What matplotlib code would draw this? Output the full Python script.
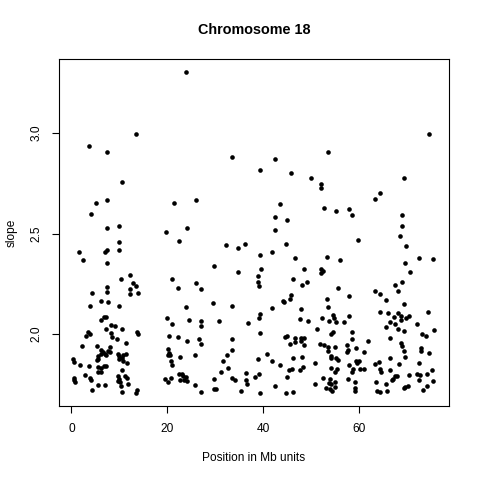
import numpy as np
import matplotlib
matplotlib.use("Agg")
import matplotlib.pyplot as plt

plt.rcParams['font.family'] = ['Liberation Sans', 'DejaVu Sans']

title = "Chromosome 18"
xlabel = "Position in Mb units"
ylabel = "slope"
xticks = [0, 20, 40, 60]
yticks = [2.0, 2.5, 3.0]

# short arm (0 - 14 Mb)
pos_p = [13.5, 3.75, 7.43, 10.5, 5.06, 7.36, 4.17, 7.36, 9.85,
         9.85, 1.6, 2.36, 7.08, 7.36, 10.0, 7.5, 10.35, 12.1, 12.85, 13.54, 12.1, 12.3, 13.96,
         7.5, 7.36, 4.24, 6.1, 7.7, 10.0, 3.9, 6.8, 7.2, 6.1, 8.26, 9.1, 7.3, 10.56, 3.5, 3.9,
         3.06, 8.26, 8.47, 9.5, 13.7, 13.9, 2.15, 5.35, 11.4, 6.1, 8.06, 6.1, 6.6, 5.6, 7.56,
         7.98, 7.0, 7.3, 9.6, 9.85, 10.7, 10.56, 11.46, 5.35, 5.6, 0.35, 0.48, 1.73, 3.7, 6.7,
         7.1, 10.0, 10.7, 11.6, 5.5, 6.2, 10.56, 5.6, 6.1, 2.9, 3.8, 4.1, 0.5, 0.6, 0.8, 9.8,
         9.9, 11.1, 11.67, 5.6, 7.08, 9.6, 10.2, 11.7, 10.4, 10.56, 4.3, 13.7, 13.5]
slope_p = [2.995, 2.937, 2.907, 2.755, 2.652, 2.667, 2.599, 2.529, 2.537,
           2.456, 2.409, 2.37, 2.409, 2.42, 2.418, 2.352, 2.275, 2.292, 2.255, 2.239, 2.222, 2.199, 2.202,
           2.235, 2.209, 2.204, 2.166, 2.158, 2.138, 2.141, 2.085, 2.085, 2.07, 2.046, 2.041, 2.023, 2.023, 2.008, 2.0,
           1.99, 2.006, 1.984, 1.977, 2.012, 2.0, 1.939, 1.94, 1.955, 1.92, 1.934, 1.899, 1.909, 1.892, 1.915,
           1.912, 1.899, 1.896, 1.899, 1.889, 1.894, 1.882, 1.902, 1.871, 1.876, 1.874, 1.859, 1.846, 1.841, 1.841,
           1.842, 1.874, 1.867, 1.857, 1.834, 1.832, 1.821, 1.812, 1.811, 1.795, 1.783, 1.773, 1.78, 1.771, 1.76, 1.79,
           1.776, 1.791, 1.78, 1.745, 1.745, 1.768, 1.763, 1.753, 1.74, 1.711, 1.721, 1.721, 1.705]

# long arm, 19 - 46 Mb
pos_q1 = [21.3, 19.7, 23.9, 33.5, 42.4, 39.4, 45.7, 26.0, 43.4, 42.4, 44.9, 24.0, 42.4,
          22.4, 29.8, 21.0, 22.3, 25.9, 27.0, 29.4, 23.9, 19.9, 21.0, 24.4, 27.1, 27.0, 20.35,
          22.2, 24.0, 26.5, 27.1, 20.1, 20.35, 20.5, 20.1, 22.7, 25.8, 20.8, 20.9, 19.5, 20.1,
          20.8, 22.4, 23.06, 23.3, 22.6, 23.4, 23.96, 24.1, 25.8, 27.0, 29.8, 29.8,
          32.3, 34.65, 36.1, 44.7, 39.3, 41.7, 34.65, 39.5, 38.96, 38.96, 39.1, 33.5, 44.0, 44.2,
          45.5, 41.7, 39.2, 39.1, 30.8, 36.7, 39.2, 33.4, 44.6, 45.0, 45.6, 33.5, 32.4, 31.5,
          40.8, 38.9, 41.7, 32.6, 31.1, 43.5, 45.4, 36.4, 39.1, 33.4, 34.0, 36.4, 36.5, 38.3,
          44.85, 30.2, 35.35, 39.4, 42.4, 44.8]
slope_q1 = [2.652, 2.507, 3.305, 2.882, 2.871, 2.816, 2.80, 2.665, 2.647, 2.58, 2.567, 2.529, 2.517,
            2.461, 2.34, 2.272, 2.227, 2.255, 2.224, 2.153, 2.134, 2.08, 2.051, 2.068, 2.063, 2.041, 1.989,
            1.984, 1.964, 1.974, 1.949, 1.925, 1.904, 1.897, 1.896, 1.886, 1.896, 1.866, 1.844, 1.778, 1.761,
            1.781, 1.801, 1.801, 1.791, 1.771, 1.77, 1.785, 1.768, 1.746, 1.713, 1.778, 1.725,
            2.441, 2.429, 2.446, 2.446, 2.395, 2.406, 2.308, 2.322, 2.287, 2.26, 2.237, 2.139, 2.166, 2.158,
            2.176, 2.128, 2.098, 2.081, 2.065, 2.055, 2.003, 1.977, 1.987, 1.992, 1.95, 1.922, 1.894, 1.867,
            1.9, 1.877, 1.866, 1.829, 1.811, 1.846, 1.821, 1.806, 1.801, 1.783, 1.77, 1.77, 1.751, 1.786,
            1.785, 1.727, 1.718, 1.708, 1.74, 1.705]

# long arm, 46 - 76 Mb
pos_q2 = [53.4, 50.0, 52.1, 52.1, 69.4, 64.3, 63.3, 52.7, 55.1, 57.8, 58.4, 69.0, 68.9,
          59.7, 46.7, 53.3, 55.9, 48.5, 52.1, 52.5, 52.1, 46.2, 48.1, 49.2, 55.6, 45.7, 57.8,
          53.3, 53.4, 47.8, 47.6, 49.4, 52.2, 53.7, 54.5, 54.8, 55.1, 56.9, 57.9, 51.2, 46.5,
          46.6, 47.9, 48.4, 47.8, 48.5, 54.2, 54.6, 58.5, 58.5, 51.8, 52.7, 53.5, 53.5, 54.9,
          57.5, 57.6, 57.5, 59.4, 61.0, 46.1, 48.1, 54.0, 54.2, 55.2, 55.6, 50.8, 54.2, 55.3,
          54.9, 57.8, 59.4, 59.9, 59.5, 58.6, 58.4, 60.1, 61.0, 45.9, 47.6, 48.3, 52.4, 53.9,
          53.75, 54.1, 54.9, 57.6, 59.2, 50.7, 53.1, 53.9, 54.4, 54.9, 59.1, 59.2, 46.1,
          68.4, 69.8, 72.4, 69.6, 70.5, 69.0, 67.4, 68.0, 63.3, 64.3, 65.6, 69.4, 64.3, 65.9,
          68.0, 68.6, 68.75, 67.15, 69.65, 70.3, 66.4, 67.4, 65.5, 68.0, 69.4, 72.1, 73.0, 66.5,
          61.8, 68.7, 68.8, 69.3, 72.8, 72.9, 69.6, 66.4, 64.2, 63.2, 68.25, 72.4, 64.4, 64.5,
          66.4, 70.3, 72.1, 72.6, 67.4, 67.85, 67.0, 66.8, 63.5, 65.6, 72.4, 69.3, 69.6, 70.1,
          63.75, 64.3, 65.8, 73.3,
          74.5, 75.4, 74.3, 75.6, 74.0, 74.5, 75.2, 74.1, 75.3, 74.2]
slope_q2 = [2.907, 2.775, 2.745, 2.726, 2.778, 2.70, 2.673, 2.625, 2.61, 2.622, 2.59, 2.59, 2.536,
            2.466, 2.377, 2.383, 2.37, 2.323, 2.322, 2.312, 2.302, 2.275, 2.242, 2.257, 2.229, 2.194, 2.191,
            2.173, 2.134, 2.124, 2.075, 2.063, 2.078, 2.063, 2.093, 2.081, 2.061, 2.058, 2.088, 2.023, 1.982,
            1.962, 1.982, 1.979, 1.964, 1.944, 2.0, 2.008, 2.01, 1.977, 1.952, 1.945, 1.934, 1.915, 1.935,
            1.944, 1.922, 1.91, 1.93, 1.91, 1.881, 1.884, 1.879, 1.889, 1.879, 1.871, 1.857, 1.829, 1.827,
            1.812, 1.847, 1.866, 1.867, 1.857, 1.826, 1.809, 1.826, 1.824, 1.824, 1.821, 1.837, 1.78, 1.778,
            1.758, 1.751, 1.763, 1.775, 1.763, 1.751, 1.73, 1.726, 1.718, 1.736, 1.73, 1.718, 1.713,
            2.486, 2.436, 2.377, 2.355, 2.31, 2.26, 2.242, 2.212, 2.215, 2.199, 2.169, 2.148, 2.108, 2.104,
            2.104, 2.088, 2.071, 2.083, 2.08, 2.088, 2.061, 2.048, 2.035, 2.023, 2.016, 2.048, 1.999, 1.98,
            1.964, 1.954, 1.942, 1.915, 1.929, 1.917, 1.887, 1.881, 1.862, 1.849, 1.849, 1.854, 1.824, 1.811,
            1.819, 1.795, 1.803, 1.796, 1.791, 1.79, 1.776, 1.77, 1.763, 1.75, 1.77, 1.731, 1.735, 1.741,
            1.718, 1.71, 1.718, 1.721,
            2.995, 2.375, 2.11, 2.02, 1.99, 1.905, 1.82, 1.80, 1.765, 1.74]

pos = np.array(pos_p + pos_q1 + pos_q2)
slope = np.array(slope_p + slope_q1 + slope_q2)

fig = plt.figure(figsize=(4.8, 4.8), dpi=100)
ax = fig.add_axes([59 / 480, 1 - 406 / 480, 390 / 480, 347 / 480])
ax.scatter(pos, slope, s=11, color='black', linewidths=0)

ax.set_xlim(-2.6, 78.7)
ax.set_ylim(1.642, 3.368)
ax.set_xticks(xticks)
ax.set_yticks(yticks)
ax.set_xticklabels([str(t) for t in xticks])
ax.set_yticklabels(["%.1f" % t for t in yticks], rotation=90, va='center')
ax.tick_params(direction='out', length=5, width=0.8, labelsize=8.6, pad=7)
for s in ax.spines.values():
    s.set_linewidth(0.8)

fig.text(254 / 480, 1 - 30 / 480, title, ha='center', va='center',
         fontsize=10.4, fontweight='bold')
fig.text(254 / 480, 1 - 458 / 480, xlabel, ha='center', va='center', fontsize=8.6)
fig.text(12 / 480, 1 - 233 / 480, ylabel, ha='center', va='center', fontsize=8.6, rotation=90)

fig.savefig("out.png", dpi=100)
